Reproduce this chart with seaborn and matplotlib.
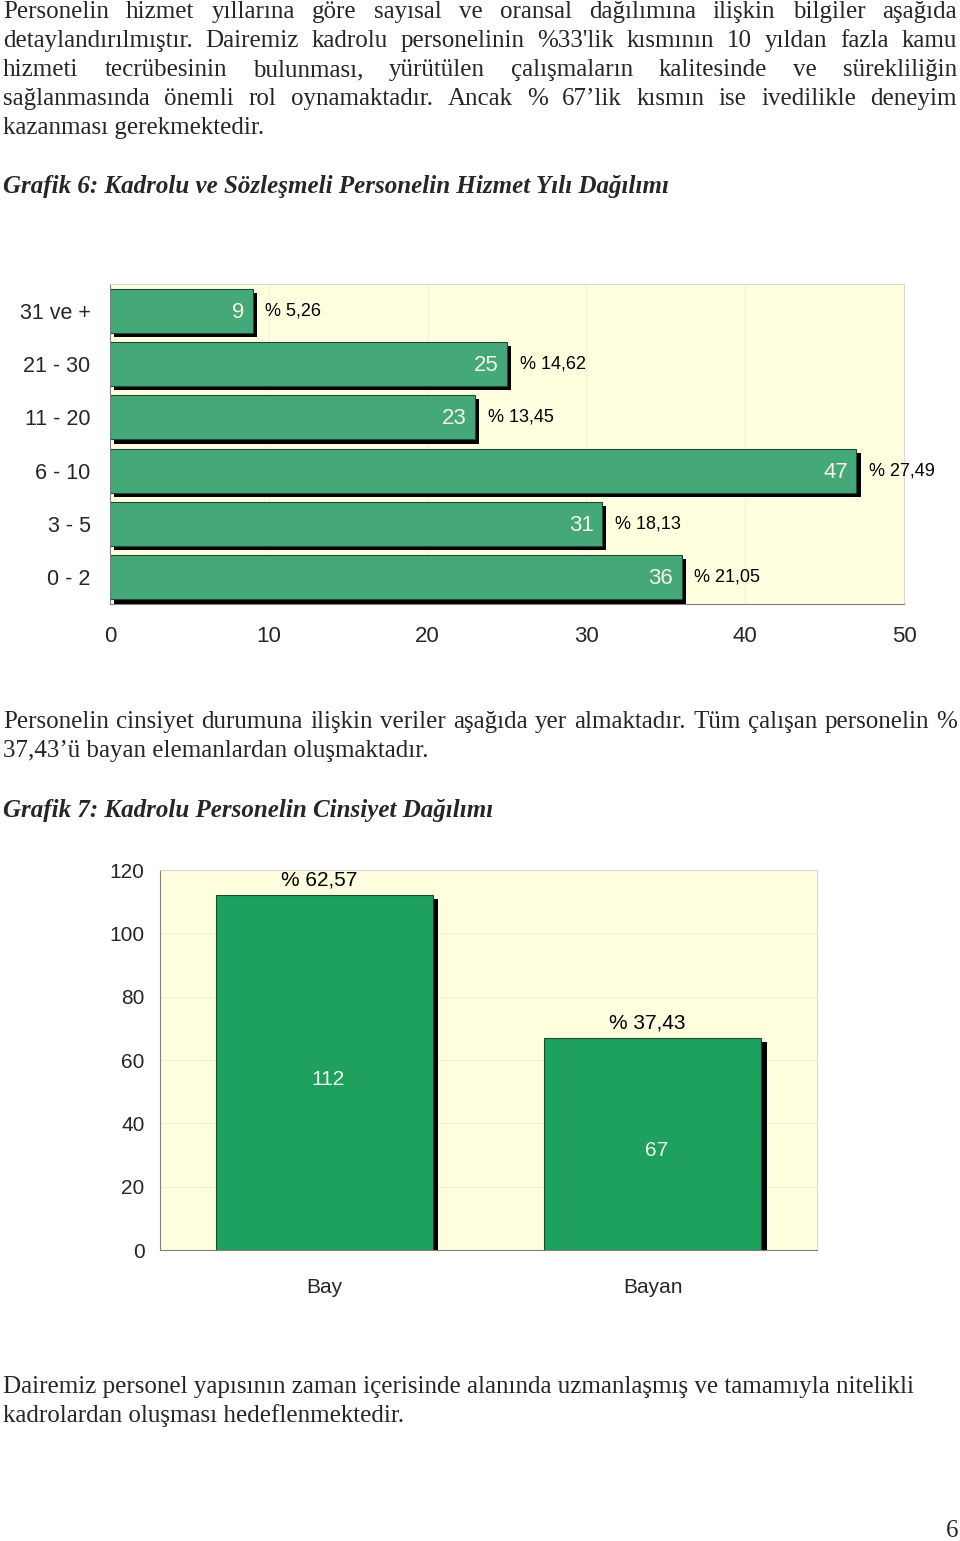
import matplotlib
matplotlib.use("Agg")
import matplotlib.pyplot as plt
import matplotlib.patheffects as pe
from matplotlib import font_manager
import seaborn as sns

W, H = 960, 1541

# data
years = ["31 ve +", "21 - 30", "11 - 20", "6 - 10", "3 - 5", "0 - 2"]
years_n = [9, 25, 23, 47, 31, 36]
years_pct = ["% 5,26", "% 14,62", "% 13,45", "% 27,49", "% 18,13", "% 21,05"]

gender = ["Bay", "Bayan"]
gender_n = [112, 67]
gender_pct = ["% 62,57", "% 37,43"]

para1 = [
    "Personelin hizmet yıllarına göre sayısal ve oransal dağılımına ilişkin bilgiler aşağıda",
    "detaylandırılmıştır. Dairemiz kadrolu personelinin %33'lik kısmının 10 yıldan fazla kamu",
    "hizmeti tecrübesinin bulunması, yürütülen çalışmaların kalitesinde ve sürekliliğin",
    "sağlanmasında önemli rol oynamaktadır. Ancak % 67’lik kısmın ise ivedilikle deneyim",
    "kazanması gerekmektedir.",
]
para2 = [
    "Personelin cinsiyet durumuna ilişkin veriler aşağıda yer almaktadır. Tüm çalışan personelin %",
    "37,43’ü bayan elemanlardan oluşmaktadır.",
]
para3 = [
    "Dairemiz personel yapısının zaman içerisinde alanında uzmanlaşmış ve tamamıyla nitelikli",
    "kadrolardan oluşması hedeflenmektedir.",
]
cap6 = "Grafik 6: Kadrolu ve Sözleşmeli Personelin Hizmet Yılı Dağılımı"
cap7 = "Grafik 7: Kadrolu Personelin Cinsiyet Dağılımı"

sns.set_style("white")
plt.rcParams["font.family"] = ["Liberation Sans", "DejaVu Sans"]

# narrow font for the second chart, if there is one
installed = {f.name for f in font_manager.fontManager.ttflist}
if "Liberation Sans Narrow" in installed:
    narrow = dict(family="Liberation Sans Narrow")
    nsize = 17.5
else:
    narrow = dict(family="Liberation Sans")
    nsize = 15

fig = plt.figure(figsize=(W / 100, H / 100), dpi=100)
fig.patch.set_facecolor("white")
r = fig.canvas.get_renderer()

serif = dict(family=["Liberation Serif", "DejaVu Serif"], fontsize=18, va="center")


def fy(y):
    return 1 - y / H


def line(txt, y, x0=3, **kw):
    opts = dict(serif)
    opts.update(kw)
    return fig.text(x0 / W, fy(y), txt, ha="left", **opts)


def justify(txt, y, x0=3, x1=957, **kw):
    words = txt.split(" ")
    opts = dict(serif)
    opts.update(kw)
    ts = [fig.text(0, fy(y), w, ha="left", **opts) for w in words]
    widths = [t.get_window_extent(r).width for t in ts]
    gap = (x1 - x0 - sum(widths)) / (len(words) - 1)
    x = x0
    for t, w in zip(ts, widths):
        t.set_x(x / W)
        x += w + gap


for i, t in enumerate(para1):
    if i < 4:
        justify(t, 12 + 29 * i)
    else:
        line(t, 12 + 29 * i)
line(cap6, 186, style="italic", weight="bold")
justify(para2[0], 722)
line(para2[1], 751)
line(cap7, 810, style="italic", weight="bold")
line(para3[0], 1387)
line(para3[1], 1416)
fig.text(958 / W, fy(1531), "6", ha="right", **serif)

bg = "#FFFFE0"

# chart 6 - horizontal bars
ax1 = fig.add_axes([110 / W, fy(604), 794 / W, 320 / H])
sns.barplot(x=years_n, y=years, orient="h", color="#45A878", saturation=1,
            width=0.83, edgecolor="#1E4A30", linewidth=0.8, ax=ax1)
ax1.set_facecolor(bg)
ax1.set_xlim(0, 50)
ax1.set_xticks(range(0, 51, 10))
ax1.grid(axis="x", color="#F2EFD2", lw=0.8)
ax1.set_axisbelow(True)
for p in ax1.patches:
    p.set_path_effects([pe.SimplePatchShadow(offset=(3, -3), shadow_rgbFace="black", alpha=1), pe.Normal()])
for i, p in enumerate(ax1.patches):
    yc = p.get_y() + p.get_height() / 2
    ax1.annotate(str(years_n[i]), (p.get_width(), yc), xytext=(-6, -1), textcoords="offset points",
                 ha="right", va="center", color="#F4F4E6", fontsize=16)
    ax1.annotate(years_pct[i], (p.get_width(), yc), xytext=(9, 0), textcoords="offset points",
                 ha="left", va="center", color="black", fontsize=13)
ax1.set_yticks([i + 0.5 for i in range(-1, len(years))], minor=True)
ax1.tick_params(axis="y", which="major", length=0, pad=14, labelsize=15.5)
ax1.tick_params(axis="y", which="minor", length=5, color="#808080", direction="out")
ax1.tick_params(axis="x", length=4, color="#808080", direction="out", pad=12, labelsize=16)
for s in ["left", "bottom"]:
    ax1.spines[s].set_color("#808080")
for s in ["top", "right"]:
    ax1.spines[s].set_color("#D8D8D8")
ax1.set_xlabel("")
ax1.set_ylabel("")

# chart 7 - vertical bars
ax2 = fig.add_axes([160 / W, fy(1250), 657 / W, 380 / H])
sns.barplot(x=gender, y=gender_n, color="#1EA05E", saturation=1, width=0.66,
            edgecolor="#1E4A30", linewidth=0.8, ax=ax2)
ax2.set_facecolor(bg)
ax2.set_ylim(0, 120)
ax2.set_yticks(range(0, 121, 20))
ax2.set_xlim(-0.5, 1.5)
ax2.grid(axis="y", color="#F2EFD2", lw=0.8)
ax2.set_axisbelow(True)
for p in ax2.patches:
    p.set_path_effects([pe.SimplePatchShadow(offset=(4, -3), shadow_rgbFace="black", alpha=1), pe.Normal()])
for i, p in enumerate(ax2.patches):
    xc = p.get_x() + p.get_width() / 2
    ax2.annotate(str(gender_n[i]), (xc, p.get_height() / 2), xytext=(3, -5), textcoords="offset points",
                 ha="center", va="center", color="#F4F4E6", fontsize=nsize, **narrow)
    ax2.annotate(gender_pct[i], (xc, p.get_height()), xytext=(-4, 4), textcoords="offset points",
                 ha="center", va="bottom", color="black", fontsize=nsize, **narrow)
ax2.set_xticks([-0.5, 0.5, 1.5], minor=True)
ax2.tick_params(axis="x", which="major", length=0, pad=20, labelsize=nsize)
ax2.tick_params(axis="x", which="minor", length=6, color="#808080", direction="out")
ax2.tick_params(axis="y", length=5, color="#808080", direction="out", pad=6, labelsize=nsize)
for lab in ax2.get_xticklabels() + ax2.get_yticklabels():
    lab.set_family(narrow["family"])
for s in ["left", "bottom"]:
    ax2.spines[s].set_color("#808080")
for s in ["top", "right"]:
    ax2.spines[s].set_color("#D8D8D8")
ax2.set_xlabel("")
ax2.set_ylabel("")

fig.savefig("out.png", dpi=100)
